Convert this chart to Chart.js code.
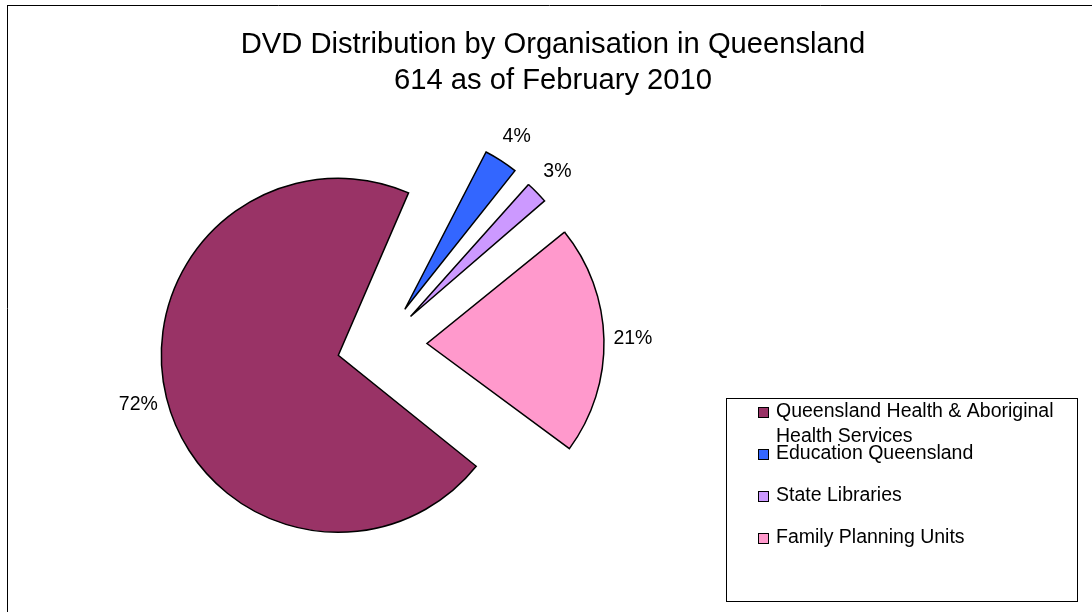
<!DOCTYPE html>
<html>
<head>
<meta charset="utf-8">
<script src="https://cdn.jsdelivr.net/npm/chart.js@4.4.1/dist/chart.umd.min.js"></script>
<style>
  html, body { margin: 0; padding: 0; background: #fff; }
  #wrap { position: relative; width: 1092px; height: 612px; }
</style>
</head>
<body>
<div id="wrap"><canvas id="chart" width="1092" height="612"></canvas></div>
<script>
const titleLines = ["DVD Distribution by Organisation in Queensland", "614 as of February 2010"]
const categories = ["Queensland Health & Aboriginal Health Services", "Education Queensland", "State Libraries", "Family Planning Units"]
const shares = [72, 4, 3, 21]
const colours = ["#993366", "#3366FF", "#CC99FF", "#FF99CC"]

// how far each slice is pulled out (px) and the pie radius
const explode = [45, 42, 40, 45]
const R = 177
const FONT = "'Liberation Sans', Arial, sans-serif"

// chart.js arc draws offset/4 and grows big slices by the same amount, undo that
const explodeFix = {
  id: "explodeFix",
  beforeDatasetsDraw(chart) {
    const meta = chart.getDatasetMeta(0)
    meta.data.forEach((arc, i) => {
      const fix = 1 - Math.sin(Math.min(Math.PI, arc.circumference))
      arc.outerRadius = R - explode[i] * fix
    })
  }
}

const frameAndText = {
  id: "frameAndText",
  beforeDraw(chart) {
    const ctx = chart.ctx
    ctx.save()
    ctx.fillStyle = "#fff"
    ctx.fillRect(0, 0, chart.width, chart.height)
    ctx.strokeStyle = "#000"
    ctx.lineWidth = 1
    ctx.beginPath()
    ctx.moveTo(7.5, 5)
    ctx.lineTo(7.5, chart.height)
    ctx.moveTo(7, 5.5)
    ctx.lineTo(chart.width, 5.5)
    ctx.stroke()
    ctx.restore()
  },
  afterDraw(chart) {
    const ctx = chart.ctx
    ctx.save()
    // title
    ctx.fillStyle = "#000"
    ctx.font = "29.2px " + FONT
    ctx.textAlign = "center"
    ctx.textBaseline = "alphabetic"
    titleLines.forEach((t, i) => ctx.fillText(t, 553, 53 + i * 36))

    // percentage labels outside each slice
    const meta = chart.getDatasetMeta(0)
    ctx.font = "19.5px " + FONT
    ctx.textBaseline = "middle"
    meta.data.forEach((arc, i) => {
      const mid = (arc.startAngle + arc.endAngle) / 2
      const d = explode[i] + R + 29
      const x = arc.x + Math.cos(mid) * d
      const y = arc.y + Math.sin(mid) * d
      ctx.fillText(shares[i] + "%", x, y)
    })

    // legend box
    ctx.strokeStyle = "#000"
    ctx.lineWidth = 1
    ctx.strokeRect(726.5, 398.5, 351, 203)
    ctx.textAlign = "left"
    const ds = chart.data.datasets[0]
    chart.data.labels.forEach((label, i) => {
      const y = 412 + i * 42
      ctx.fillStyle = ds.backgroundColor[i]
      ctx.fillRect(758, y - 5, 11, 11)
      ctx.strokeRect(758.5, y - 4.5, 10, 10)
      ctx.fillStyle = "#000"
      // wrap long labels like the original
      const words = label.split(" ")
      let line = ""
      let ly = y
      words.forEach(w => {
        const test = line ? line + " " + w : w
        if (ctx.measureText(test).width > 290 && line) {
          ctx.fillText(line, 776, ly)
          line = w
          ly += 25
        } else {
          line = test
        }
      })
      ctx.fillText(line, 776, ly)
    })
    ctx.restore()
  }
}

new Chart(document.getElementById("chart"), {
  type: "pie",
  data: {
    labels: categories,
    datasets: [
      {
        data: shares,
        backgroundColor: colours,
        borderColor: "#000",
        borderWidth: 1.5,
        borderJoinStyle: "miter",
        offset: explode.map(e => e * 4)
      }
    ]
  },
  options: {
    responsive: false,
    animation: false,
    events: [],
    rotation: 126.5,
    radius: R,
    layout: { padding: { left: 0, right: 328, top: 100, bottom: 23 } },
    plugins: {
      legend: { display: false },
      title: { display: false },
      tooltip: { enabled: false }
    }
  },
  plugins: [explodeFix, frameAndText]
})
</script>
</body>
</html>
